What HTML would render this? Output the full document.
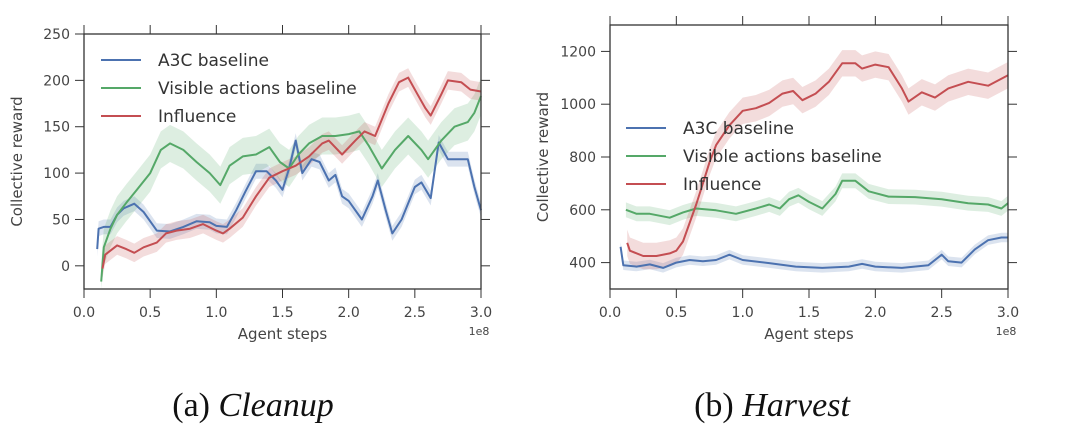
<!DOCTYPE html>
<html><head><meta charset="utf-8"><style>
html,body{margin:0;padding:0;background:#fff;}
svg{display:block;font-family:"DejaVu Sans","Liberation Sans",sans-serif;}
.tick{fill:#444;font-size:14px;}
.cap{font-family:"Liberation Serif",serif;font-size:34px;fill:#111;}
</style></head><body>
<svg id="chart" width="1075" height="436" viewBox="0 0 1075 436" xmlns="http://www.w3.org/2000/svg">
<text class="cap" x="253" y="416" text-anchor="middle">(a) <tspan font-style="italic">Cleanup</tspan></text>
<text class="cap" x="772" y="416" text-anchor="middle">(b) <tspan font-style="italic">Harvest</tspan></text>
</svg>
<script>
const seriesNames = ["A3C baseline","Visible actions baseline","Influence"];
const colors = ["#4c72b0","#55a868","#c44e52"];
// Cleanup
const cA3cX=[0.1,0.11,0.15,0.2,0.25,0.3,0.38,0.45,0.55,0.65,0.75,0.85,0.95,1.0,1.08,1.15,1.22,1.3,1.38,1.45,1.5,1.55,1.6,1.65,1.72,1.78,1.85,1.9,1.95,2.0,2.1,2.18,2.22,2.28,2.33,2.4,2.5,2.55,2.62,2.68,2.75,2.85,2.9,2.95,3.0];
const cA3cY=[18,40,42,42,55,62,67,58,38,37,42,48,47,43,42,60,80,102,102,92,82,105,135,100,115,112,92,98,75,70,50,75,92,60,35,50,85,90,73,133,115,115,115,85,60];
const cVisX=[0.13,0.15,0.2,0.25,0.32,0.4,0.5,0.58,0.65,0.75,0.85,0.95,1.03,1.1,1.2,1.3,1.4,1.48,1.55,1.62,1.7,1.8,1.9,2.0,2.08,2.15,2.25,2.35,2.45,2.55,2.6,2.7,2.8,2.9,2.95,3.0];
const cVisY=[-17,20,40,55,68,82,100,125,132,125,112,100,87,108,118,120,128,112,105,120,132,140,140,142,145,130,105,125,140,125,115,135,150,155,165,183];
const cInfX=[0.14,0.16,0.25,0.32,0.38,0.45,0.55,0.62,0.7,0.8,0.9,1.0,1.05,1.1,1.2,1.3,1.4,1.5,1.6,1.7,1.8,1.85,1.95,2.05,2.12,2.2,2.3,2.38,2.45,2.52,2.58,2.62,2.7,2.75,2.85,2.92,3.0];
const cInfY=[-3,12,22,18,14,20,25,35,38,40,45,38,35,40,52,75,95,102,108,118,132,135,120,135,145,140,175,198,203,185,170,162,185,200,198,190,188];
const cBand=[8,20,10];
const cYTicks=[0,50,100,150,200,250];
// Harvest
const hA3cX=[0.08,0.1,0.2,0.3,0.4,0.5,0.6,0.7,0.8,0.9,1.0,1.2,1.4,1.6,1.8,1.9,2.0,2.2,2.4,2.5,2.55,2.65,2.75,2.85,2.95,3.0];
const hA3cY=[460,390,385,393,380,400,410,405,410,430,410,398,385,380,385,395,385,380,390,430,405,400,450,485,495,495];
const hVisX=[0.12,0.2,0.3,0.45,0.55,0.65,0.8,0.95,1.1,1.2,1.28,1.35,1.42,1.5,1.6,1.7,1.75,1.85,1.95,2.1,2.3,2.5,2.7,2.85,2.95,3.0];
const hVisY=[600,585,585,570,590,605,598,585,605,620,605,640,655,630,605,660,710,710,670,650,648,640,625,620,605,625];
const hInfX=[0.13,0.15,0.25,0.35,0.45,0.5,0.55,0.6,0.65,0.7,0.75,0.8,0.9,1.0,1.1,1.2,1.3,1.38,1.45,1.55,1.65,1.75,1.85,1.9,2.0,2.1,2.2,2.25,2.35,2.45,2.55,2.7,2.85,3.0];
const hInfY=[475,445,425,425,435,445,480,550,620,700,780,845,920,975,985,1005,1040,1050,1015,1040,1085,1155,1155,1135,1150,1140,1060,1010,1045,1025,1060,1085,1070,1110];
const hBand=[18,28,50];
const hYTicks=[400,600,800,1000,1200];
const xTicks=[0,0.5,1,1.5,2,2.5,3];

const svg=document.getElementById('chart');
const NS="http://www.w3.org/2000/svg";
function mk(tag,attrs,parent){const e=document.createElementNS(NS,tag);for(const k in attrs)e.setAttribute(k,attrs[k]);(parent||svg).appendChild(e);return e;}

function panel(id,box,ymin,ymax,yTicks,xs,ys,bands,legend){
  const g=mk('g',{});
  
  
  const sx=v=>box.x0+(v/3)*(box.x1-box.x0);
  const sy=v=>box.y1-(v-ymin)/(ymax-ymin)*(box.y1-box.y0);
  for(let i=0;i<3;i++){
    const X=xs[i],Y=ys[i],b=bands[i];
    const clamp=v=>Math.max(ymin,Math.min(ymax,v));
    let d='';
    X.forEach((x,j)=>{d+=(j?'L':'M')+sx(x).toFixed(1)+','+sy(clamp(Y[j]+b)).toFixed(1);});
    for(let j=X.length-1;j>=0;j--)d+='L'+sx(X[j]).toFixed(1)+','+sy(clamp(Y[j]-b)).toFixed(1);
    const band=mk('path',{d:d+'Z',fill:colors[i],'fill-opacity':0.2,stroke:'none'},g);
    
    
  }
  for(let i=0;i<3;i++){
    const X=xs[i],Y=ys[i];
    const pts=X.map((x,j)=>sx(x).toFixed(1)+','+sy(Y[j]).toFixed(1)).join(' ');
    const ln=mk('polyline',{points:pts,fill:'none',stroke:colors[i],'stroke-width':2,'stroke-linejoin':'round'},g);
    
    
  }
  mk('rect',{x:box.x0,y:box.y0,width:box.x1-box.x0,height:box.y1-box.y0,fill:'none',stroke:'#333','stroke-width':1.3},g);
  xTicks.forEach(t=>{
    const x=sx(t);
    mk('line',{x1:x,x2:x,y1:box.y1,y2:box.y1+9,stroke:'#333'},g);
    mk('line',{x1:x,x2:x,y1:box.y0,y2:box.y0-9,stroke:'#333'},g);
    const tx=mk('text',{x:x,y:box.y1+28,'text-anchor':'middle',class:'tick'},g);
    tx.textContent=t.toFixed(1);
    
    
  });
  yTicks.forEach(t=>{
    const y=sy(t);
    mk('line',{x1:box.x0-9,x2:box.x0,y1:y,y2:y,stroke:'#333'},g);
    mk('line',{x1:box.x1,x2:box.x1+9,y1:y,y2:y,stroke:'#333'},g);
    const tx=mk('text',{x:box.x0-14,y:y+5,'text-anchor':'end',class:'tick'},g);
    tx.textContent=t;
    
    
  });
  const xl=mk('text',{x:(box.x0+box.x1)/2,y:box.y1+50,'text-anchor':'middle',fill:'#444','font-size':15},g);
  xl.textContent='Agent steps';
  
  
  const ex=mk('text',{x:box.x1-2,y:box.y1+46,'text-anchor':'middle',fill:'#444','font-size':11},g);
  ex.textContent='1e8';
  
  
  const yl=mk('text',{transform:'translate('+(box.x0-62)+','+((box.y0+box.y1)/2)+') rotate(-90)','text-anchor':'middle',fill:'#444','font-size':15},g);
  yl.textContent='Collective reward';
  
  
  for(let i=0;i<3;i++){
    const y=legend.y+i*28;
    const le=mk('g',{},g);
    
    
    mk('line',{x1:legend.x,x2:legend.x+40,y1:y,y2:y,stroke:colors[i],'stroke-width':2},le);
    const t=mk('text',{x:legend.x+57,y:y+6,fill:'#333','font-size':17},le);
    t.textContent=seriesNames[i];
  }
}
panel('cleanup',{x0:84,x1:481,y0:34,y1:289},-25,250,cYTicks,[cA3cX,cVisX,cInfX],[cA3cY,cVisY,cInfY],cBand,{x:101,y:60});
panel('harvest',{x0:610,x1:1008,y0:25,y1:289},300,1300,hYTicks,[hA3cX,hVisX,hInfX],[hA3cY,hVisY,hInfY],hBand,{x:626,y:128});
</script>
</body></html>
